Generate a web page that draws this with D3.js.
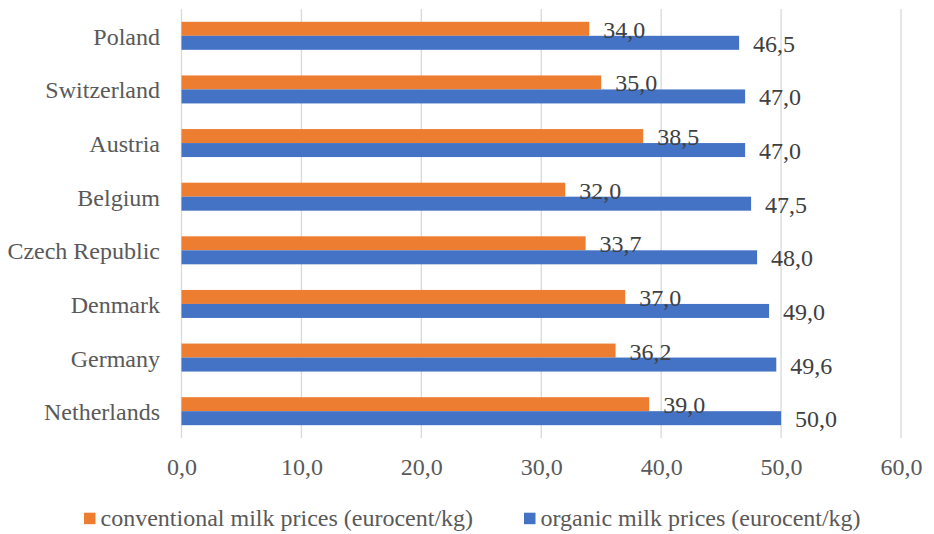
<!DOCTYPE html>
<html><head><meta charset="utf-8">
<script src="https://cdn.jsdelivr.net/npm/d3@7"></script>
</head><body style="margin:0;background:#fff">
<svg id="c" width="934" height="534" font-family="Liberation Serif" style="font-family:'Liberation Serif'"></svg>
<script>
const categories = ["Poland","Switzerland","Austria","Belgium","Czech Republic","Denmark","Germany","Netherlands"];
const conventional = [34.0,35.0,38.5,32.0,33.7,37.0,36.2,39.0];
const organic = [46.5,47.0,47.0,47.5,48.0,49.0,49.6,50.0];
const seriesNames = ["conventional milk prices (eurocent/kg)","organic milk prices (eurocent/kg)"];
const seriesColors = ["#ED7D31","#4472C4"];
const xTicks = [0,10,20,30,40,50,60];

const FONT = "Liberation Serif";
const svg = d3.select("#c");
const fmt = v => v.toFixed(1).replace(".", ",");
const x = d3.scaleLinear().domain([0,60]).range([181.5,901]);
const y0 = d3.scaleBand().domain(categories).range([9,438]).paddingInner(0.478).paddingOuter(0.239);
const y1 = d3.scaleBand().domain([0,1]).range([0,y0.bandwidth()]);
const series = [conventional, organic];

// gridlines
svg.append("g").selectAll("line").data(xTicks).join("line")
  .attr("x1", d=>x(d)).attr("x2", d=>x(d)).attr("y1",9).attr("y2",438)
  .attr("stroke","#D9D9D9").attr("stroke-width",1.3);

// bars
series.forEach((s,si)=>{
  svg.append("g").selectAll("rect").data(categories).join("rect")
    .attr("x", x(0)).attr("y", c=>y0(c)+y1(si))
    .attr("width", (c,i)=>x(s[i])-x(0)).attr("height", y1.bandwidth())
    .attr("fill", seriesColors[si]);
});

// x axis labels
const xAxis = d3.axisBottom(x).tickValues(xTicks).tickFormat(fmt).tickSize(0).tickPadding(0);
const ax = svg.append("g").attr("transform","translate(0,458)").call(xAxis);
ax.attr("font-family", FONT).attr("font-size", 24);
ax.select(".domain").remove();
ax.selectAll("text").style("font-family",FONT).attr("fill","#595959").attr("dy","0.71em");

// category axis labels
categories.forEach((c)=>{
  svg.append("text").attr("x",160).attr("y", y0(c)+y0.bandwidth()/2+9)
    .attr("text-anchor","end").style("font-family",FONT).attr("font-size",24).attr("fill","#595959")
    .text(c);
});

// data labels
series.forEach((s,si)=>{
  categories.forEach((c,i)=>{
    svg.append("text").attr("x", x(s[i])+14)
      .attr("y", y0(c)+y1(si)+y1.bandwidth()/2+9)
      .style("font-family",FONT).attr("font-size",24).attr("fill","#404040")
      .text(fmt(s[i]));
  });
});

// legend
const legX = [84,524];
seriesNames.forEach((n,i)=>{
  svg.append("rect").attr("x",legX[i]).attr("y",512.7).attr("width",11.5).attr("height",11.5).attr("fill",seriesColors[i]);
  svg.append("text").attr("x",legX[i]+16.5).attr("y",526).style("font-family",FONT).attr("font-size",24).attr("fill","#595959").text(n);
});
</script>
</body></html>
